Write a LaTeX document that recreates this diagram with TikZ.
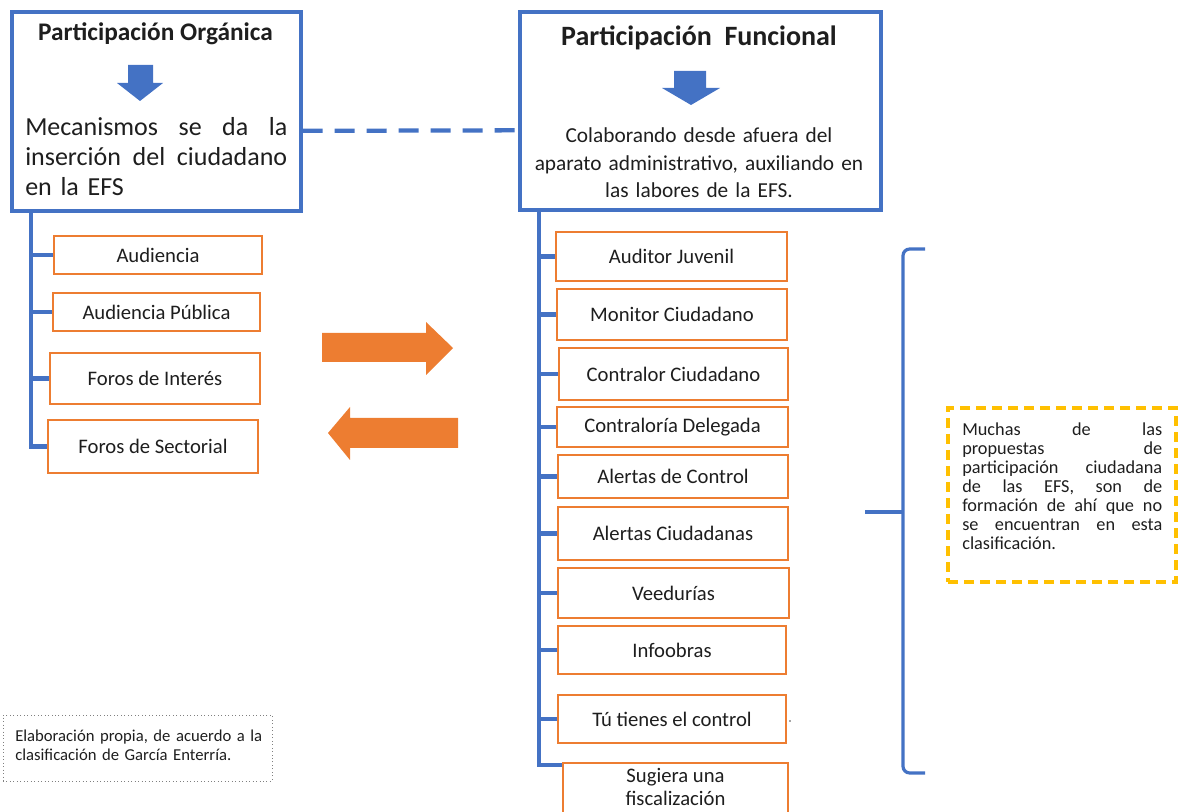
\documentclass[tikz,border=0pt]{standalone}
\usepackage{fontspec}
\setmainfont{Carlito}
\usetikzlibrary{fit,calc}
\definecolor{efsblue}{HTML}{4472C4}
\definecolor{efsorange}{HTML}{ED7D31}
\definecolor{efsyellow}{HTML}{FFC000}
\definecolor{ink}{HTML}{1E1E1E}

\begin{document}
\begin{tikzpicture}[x=0.75pt,y=-0.75pt,
  bigbox/.style={draw=efsblue, line width=2.6pt, inner sep=0pt},
  itembox/.style={draw=efsorange, line width=1pt, fill=white, inner sep=0pt},
  itemtext/.style={inner sep=0pt, align=center, text=ink, font=\fontsize{15.5}{18}\selectfont},
  spine/.style={draw=efsblue, line width=3.2pt},
  link/.style={draw=efsblue, line width=3.2pt, dash pattern=on 15pt off 9pt},
  downarrow/.style={fill=efsblue},
  swaparrow/.style={fill=efsorange},
  plaintext/.style={inner sep=0pt, text=ink}
]
\useasboundingbox (0,0) rectangle (1178,812);

% ---- main blocks ----
\node[bigbox, fit={(12,12) (301,211)}] (lb) {};
\node[bigbox, fit={(520,12) (881,210)}] (rb) {};

\node[plaintext, anchor=base, font=\bfseries\fontsize{19}{22}\selectfont] (lt) at (155.5,41) {Participación Orgánica};
\node[plaintext, anchor=base, font=\bfseries\fontsize{21}{25}\selectfont] (rt) at (699,46) {Participación~~Funcional};

\fill[downarrow] (128,65) -- (153,65) -- (153,83) -- (163,83) -- (140,101) -- (117,83) -- (128,83) -- cycle;
\fill[downarrow] (674,71) -- (706,71) -- (706,88) -- (720,88) -- (691,105) -- (662,88) -- (674,88) -- cycle;

\node[plaintext, anchor=base west, text width=196.5pt, font=\fontsize{19.5}{22.5}\selectfont] (lbody) at (25,136)
  {Mecanismos\hfill se\hfill da\hfill la\\ inserción\hfill del\hfill ciudadano\\ en la EFS};
\node[plaintext, anchor=base, text width=260pt, align=center, font=\fontsize{16}{20.5}\selectfont] (rbody) at (699,143)
  {Colaborando desde afuera del\\ aparato administrativo, auxiliando en\\ las labores de la EFS.};

\draw[link] ([yshift=-14.5pt]lb.east) -- ([yshift=-14.5pt]rb.west);

% ---- organic mechanisms ----
\node[itembox, fit={(54,236) (262,274)}, label={[itemtext]center:Audiencia}] (au) {};
\node[itembox, fit={(53,293) (260,331)}, label={[itemtext]center:Audiencia Pública}] (ap) {};
\node[itembox, fit={(50,353) (260,404)}, label={[itemtext]center:Foros de Interés}] (fi) {};
\node[itembox, fit={(48,420) (258,473)}, label={[itemtext]center:Foros de Sectorial}] (fs) {};

\coordinate (lsp) at (31,0);
\draw[spine] (lb.south -| lsp) -- (fs.west -| lsp) -- (fs.west);
\foreach \n in {au,ap,fi} \draw[spine] (\n.west -| lsp) -- (\n.west);

% ---- functional mechanisms ----
\node[itembox, fit={(556,232) (787,281)}, label={[itemtext]center:Auditor Juvenil}] (aj) {};
\node[itembox, fit={(557,289) (787,340)}, label={[itemtext]center:Monitor Ciudadano}] (mc) {};
\node[itembox, fit={(559,348) (788,400)}, label={[itemtext]center:Contralor Ciudadano}] (cc) {};
\node[itembox, fit={(557,407) (788,447)}, label={[itemtext]center:Contraloría Delegada}] (cd) {};
\node[itembox, fit={(558,455) (788,498)}, label={[itemtext]center:Alertas de Control}] (ac) {};
\node[itembox, fit={(558,507) (788,560)}, label={[itemtext]center:Alertas Ciudadanas}] (aci) {};
\node[itembox, fit={(558,568) (789,618)}, label={[itemtext]center:Veedurías}] (ve) {};
\node[itembox, fit={(558,626) (786,674)}, label={[itemtext]center:Infoobras}] (inf) {};
\node[itembox, fit={(558,695) (786,743)}, label={[itemtext]center:Tú tienes el control}] (tt) {};
\node[itembox, fit={(563,763) (788,818)}, label={[itemtext, yshift=2.5pt, font=\fontsize{15.5}{17.5}\selectfont]center:Sugiera una\\ fiscalización}] (sg) {};

\coordinate (rsp) at (539,0);
\coordinate (sgc) at ($(sg.north west)+(0,3)$);
\draw[spine] (rb.south -| rsp) -- (sgc -| rsp) -- (sgc);
\foreach \n in {aj,mc,cc,cd,ac,aci,ve,inf,tt} \draw[spine] (\n.west -| rsp) -- (\n.west);
\fill[gray!70] ([xshift=1.5pt,yshift=-1pt]tt.east) rectangle ([xshift=3.5pt,yshift=-2.5pt]tt.east);

% ---- exchange arrows ----
\fill[swaparrow] (322,333) -- (426,333) -- (426,322) -- (453,348) -- (426,375) -- (426,362) -- (322,362) -- cycle;
\fill[swaparrow] (458,418) -- (350,418) -- (350,407) -- (328,433) -- (350,460) -- (350,448) -- (458,448) -- cycle;

% ---- brace and side note ----
\draw[efsblue, line width=2.4pt, rounded corners=5pt] (925,249) -- (903,249) -- (903,773) -- (925,773);
\draw[efsblue, line width=2.4pt] (903,512) -- (865,512);

\node[fit={(948,408) (1176,582)}, draw=efsyellow, line width=2.4pt, dash pattern=on 7.5pt off 4.5pt, inner sep=0pt] (note) {};
\node[plaintext, anchor=base west, text width=150pt, font=\fontsize{13.7}{14.2}\selectfont] (notetext) at (962,436)
  {Muchas\hfill de\hfill las\\ propuestas\hfill de\\ participación\hfill ciudadana\\ de\hfill las\hfill EFS,\hfill son\hfill de\\ formación\hfill de\hfill ahí\hfill que\hfill no\\ se\hfill encuentran\hfill en\hfill esta\\ clasificación.};

% ---- source ----
\node[fit={(3,715) (272,781)}, draw=gray, line width=0.6pt, dotted, inner sep=0pt] (src) {};
\node[plaintext, anchor=base west, text width=200pt, font=\fontsize{12.5}{14.3}\selectfont] (srctext) at (15,741)
  {Elaboración propia, de acuerdo a la\\ clasificación de García Enterría.};
\end{tikzpicture}
\end{document}
